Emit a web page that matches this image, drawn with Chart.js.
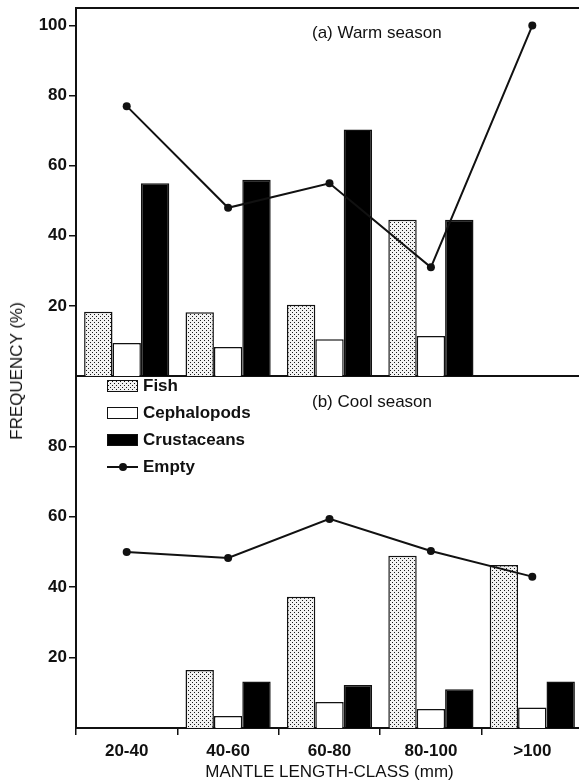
<!DOCTYPE html>
<html>
<head>
<meta charset="utf-8">
<script src="https://cdn.jsdelivr.net/npm/chart.js@4/dist/chart.umd.min.js"></script>
<style>
body { margin: 0; background: #fff; overflow: hidden; font-family: "Liberation Sans", Arial, sans-serif; color: #111; }
#wrap { position: relative; width: 579px; height: 783px; overflow: hidden; }
canvas { position: absolute; left: 0; }
#topChart { top: 0; }
#botChart { top: 370px; }
.panel { position: absolute; left: 312px; font-size: 17px; line-height: 20px; white-space: nowrap; }
#yTitle { position: absolute; left: 17px; top: 371px; transform: translate(-50%, -50%) rotate(-90deg); white-space: nowrap; font-size: 17px; }
#legend { position: absolute; left: 107px; top: 372px; font-size: 17px; font-weight: bold; }
.row { height: 27px; display: flex; align-items: center; }
.sw { width: 31px; height: 12px; border: 1.5px solid #111; margin-right: 5px; box-sizing: border-box; }
.ln { width: 31px; height: 12px; margin-right: 5px; position: relative; }
.ln:before { content: ""; position: absolute; left: 0; right: 0; top: 5px; border-top: 2px solid #111; }
.ln:after { content: ""; position: absolute; left: 12px; top: 2px; width: 8px; height: 8px; border-radius: 50%; background: #111; }
</style>
</head>
<body>
<div id="wrap">
	<canvas id="topChart" width="583" height="380"></canvas>
	<canvas id="botChart" width="583" height="413"></canvas>
	<div class="panel" style="top:23px">(a) Warm season</div>
	<div class="panel" style="top:392px">(b) Cool season</div>
	<div id="yTitle">FREQUENCY (%)</div>
	<div id="legend"></div>
</div>
<script>
"use strict"

// данные
const categories = ['20-40', '40-60', '60-80', '80-100', '>100'];
const seriesNames = ['Fish', 'Cephalopods', 'Crustaceans', 'Empty'];

const warmFish = [18.3, 18.2, 20.3, 44.6, null];
const warmCeph = [9.4, 8.3, 10.5, 11.4, null];
const warmCrust = [55, 56, 70.3, 44.6, null];
const warmEmpty = [77, 48, 55, 31, 100];

const coolFish = [null, 16.5, 37.3, 48.9, 46.3];
const coolCeph = [null, 3.4, 7.4, 5.4, 5.8];
const coolCrust = [null, 13.2, 12.2, 11, 13.2];
const coolEmpty = [50, 48.3, 59.4, 50.3, 43];

const yTicksTop = [20, 40, 60, 80, 100];
const yTicksBot = [20, 40, 60, 80];

const ink = '#111';
const fontMain = { family: '"Liberation Sans", Arial, sans-serif', size: 17 };
const fontBold = { family: '"Liberation Sans", Arial, sans-serif', size: 17, weight: 'bold' };

// точечная штриховка для Fish
const pc = document.createElement('canvas');
pc.width = 4;
pc.height = 4;
const pctx = pc.getContext('2d');
pctx.fillStyle = '#f2f2f2';
pctx.fillRect(0, 0, 4, 4);
pctx.fillStyle = '#1a1a1a';
pctx.fillRect(0, 0, 1, 1);
pctx.fillRect(2, 2, 1, 1);
const fishPattern = pctx.createPattern(pc, 'repeat');

function makeDatasets(fish, ceph, crust, empty) {
	const barCommon = { borderColor: ink, borderWidth: 1.5, barPercentage: 1.0, categoryPercentage: 0.84, order: 1 };
	return [
		Object.assign({ type: 'bar', label: seriesNames[0], data: fish, backgroundColor: fishPattern }, barCommon),
		Object.assign({ type: 'bar', label: seriesNames[1], data: ceph, backgroundColor: '#fff' }, barCommon),
		Object.assign({ type: 'bar', label: seriesNames[2], data: crust, backgroundColor: '#000' }, barCommon),
		{
			type: 'line', label: seriesNames[3], data: empty,
			borderColor: ink, borderWidth: 2, backgroundColor: ink,
			pointRadius: 4, pointHoverRadius: 4, pointBackgroundColor: ink, pointBorderWidth: 0,
			tension: 0, fill: false, order: 0
		}
	];
}

// верхняя рамка
const framePlugin = {
	id: 'frame',
	afterDraw(chart) {
		const a = chart.chartArea;
		const ctx = chart.ctx;
		ctx.save();
		ctx.strokeStyle = ink;
		ctx.lineWidth = 2;
		ctx.beginPath();
		ctx.moveTo(a.left, a.top);
		ctx.lineTo(a.right, a.top);
		ctx.stroke();
		ctx.restore();
	}
};

function yScale(max, shown) {
	return {
		min: 0,
		max: max,
		afterFit: s => {
			s.width = 76;
			s.paddingTop = 0;
			s.paddingBottom = 0;
		},
		afterBuildTicks: s => { s.ticks = shown.map(v => ({ value: v })); },
		ticks: { color: ink, font: fontBold, padding: 2 },
		grid: { drawOnChartArea: false, drawTicks: true, tickLength: 7, color: ink, lineWidth: 1.5 },
		border: { display: true, color: ink, width: 2 }
	};
}

const topChart = new Chart(
	document.getElementById('topChart'),
	{
		data: { labels: categories, datasets: makeDatasets(warmFish, warmCeph, warmCrust, warmEmpty) },
		options: {
			responsive: false,
			animation: false,
			layout: { autoPadding: false, padding: { top: 8, left: 0, right: 0, bottom: 0 } },
			plugins: { legend: { display: false }, tooltip: { enabled: false } },
			scales: {
				x: {
					afterFit: s => { s.height = 4; },
					ticks: { display: false },
					grid: { display: false },
					border: { display: true, color: ink, width: 2 }
				},
				y: yScale(105, yTicksTop)
			}
		},
		plugins: [framePlugin]
	}
);

const botChart = new Chart(
	document.getElementById('botChart'),
	{
		data: { labels: categories, datasets: makeDatasets(coolFish, coolCeph, coolCrust, coolEmpty) },
		options: {
			responsive: false,
			animation: false,
			layout: { autoPadding: false, padding: { top: 6, left: 0, right: 0, bottom: 0 } },
			plugins: { legend: { display: false }, tooltip: { enabled: false } },
			scales: {
				x: {
					afterFit: s => { s.height = 55; },
					ticks: { color: ink, font: fontBold, padding: 6 },
					grid: { offset: true, drawOnChartArea: false, drawTicks: true, tickLength: 7, color: ink, lineWidth: 1.5 },
					border: { display: true, color: ink, width: 2 },
					title: { display: true, text: 'MANTLE LENGTH-CLASS (mm)', color: ink, font: fontMain, padding: { top: 0, bottom: 0 } }
				},
				y: yScale(100, yTicksBot)
			}
		}
	}
);

// легенда
const legend = document.getElementById('legend');
const swatches = [
	'background-image:url(' + pc.toDataURL() + ')',
	'background:#fff',
	'background:#000'
];
seriesNames.forEach((name, i) => {
	const row = document.createElement('div');
	row.className = 'row';
	const sw = document.createElement('span');
	if (i < 3) {
		sw.className = 'sw';
		sw.style.cssText = swatches[i];
	} else {
		sw.className = 'ln';
	}
	const txt = document.createElement('span');
	txt.textContent = name;
	row.appendChild(sw);
	row.appendChild(txt);
	legend.appendChild(row);
});
</script>
</body>
</html>
